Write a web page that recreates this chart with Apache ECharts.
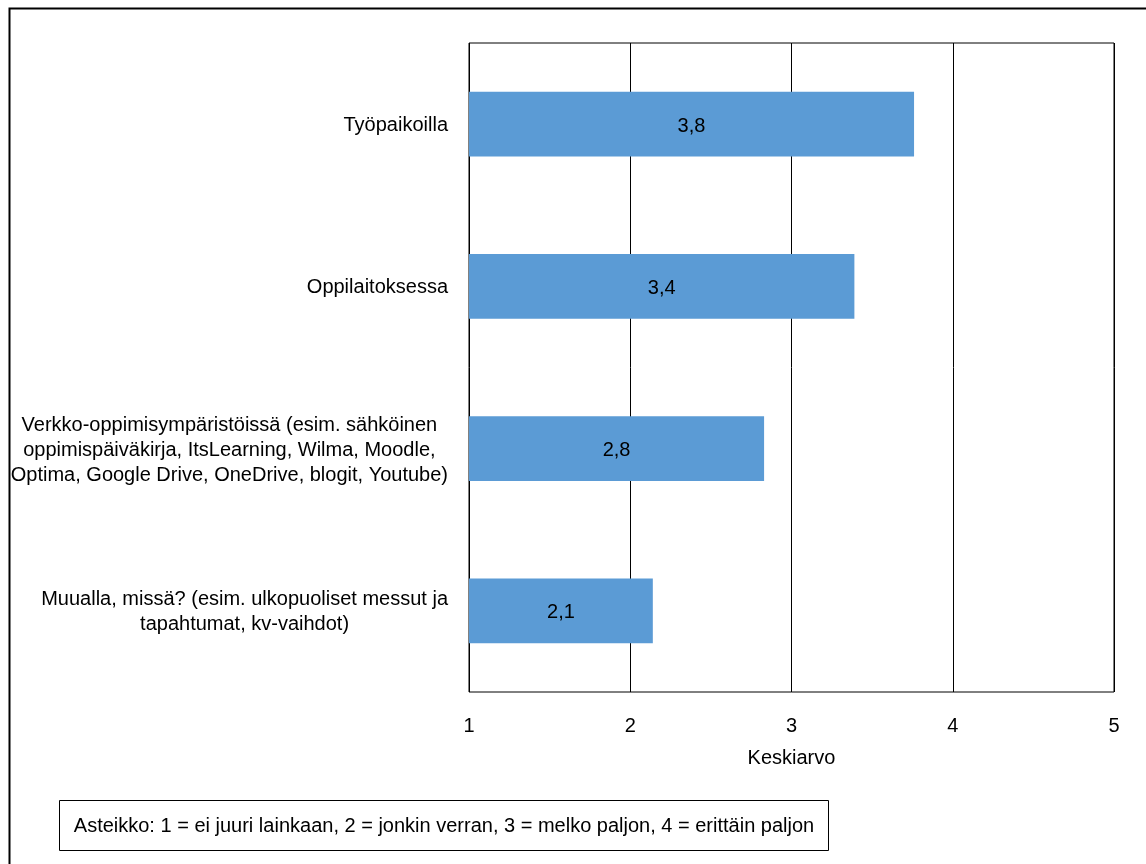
<!DOCTYPE html>
<html>
<head>
<meta charset="utf-8">
<script src="https://cdn.jsdelivr.net/npm/echarts@6/dist/echarts.min.js"></script>
<style>
  html, body { margin: 0; padding: 0; background: #fff; }
  #chart { width: 1146px; height: 864px; }
</style>
</head>
<body>
<div id="chart"></div>
<script>
// Learning environments, mean score on a 1–4 scale
const categories = [
  'Työpaikoilla',
  'Oppilaitoksessa',
  'Verkko-oppimisympäristöissä (esim. sähköinen\noppimispäiväkirja, ItsLearning, Wilma, Moodle,\nOptima, Google Drive, OneDrive, blogit, Youtube)',
  'Muualla, missä? (esim. ulkopuoliset messut ja\ntapahtumat, kv-vaihdot)'
];
const means = [3.76, 3.39, 2.83, 2.14];
const axisTicks = [1, 2, 3, 4, 5];
const axisTitle = 'Keskiarvo';
const scaleNote = 'Asteikko: 1 = ei juuri lainkaan, 2 = jonkin verran, 3 = melko paljon, 4 = erittäin paljon';

const FONT = "'Liberation Sans Narrow', 'Arial Narrow', 'Liberation Sans', Arial, sans-serif";
const chart = echarts.init(document.getElementById('chart'), null, { renderer: 'canvas' });

chart.setOption({
  backgroundColor: '#ffffff',
  animation: false,
  grid: {
    left: 469, right: 32, top: 43, bottom: 172,
    show: true, borderColor: '#000', borderWidth: 1, backgroundColor: 'transparent'
  },
  xAxis: {
    type: 'value',
    min: axisTicks[0],
    max: axisTicks[axisTicks.length - 1],
    interval: 1,
    name: axisTitle,
    nameLocation: 'middle',
    nameGap: 56,
    nameTextStyle: { color: '#000', fontFamily: FONT, fontSize: 20 },
    axisLine: { show: false },
    axisTick: { show: false },
    axisLabel: {
      color: '#000', fontFamily: FONT, fontSize: 20, margin: 24,
      formatter: v => String(v)
    },
    splitLine: { show: true, lineStyle: { color: '#000', width: 1 } }
  },
  yAxis: {
    type: 'category',
    data: categories,
    inverse: true,
    axisLine: { show: false },
    axisTick: { show: false },
    axisLabel: {
      margin: 21,
      align: 'right',
      formatter: v => v.split('\n').map(l => '{c|' + l + '}').join('\n'),
      rich: {
        c: { align: 'center', color: '#000', fontFamily: FONT, fontSize: 20, lineHeight: 25, padding: [3, 0, 0, 0] }
      }
    }
  },
  series: [{
    type: 'bar',
    data: means,
    barCategoryGap: '60%',
    itemStyle: { color: '#5B9BD5' },
    label: {
      show: true,
      position: 'inside',
      offset: [0, 2],
      color: '#000',
      fontFamily: FONT,
      fontSize: 20,
      formatter: p => p.value.toFixed(1).replace('.', ',')
    }
  }],
  graphic: [
    {
      type: 'rect',
      left: 7, top: 6,
      shape: { width: 1200, height: 900 },
      style: { fill: 'none', stroke: '#000', lineWidth: 2 },
      silent: true
    },
    {
      type: 'group',
      left: 59, top: 800,
      children: [
        {
          type: 'rect',
          shape: { x: 0, y: 0, width: 769, height: 50 },
          style: { fill: '#fff', stroke: '#000', lineWidth: 1 }
        },
        {
          type: 'text',
          x: 384.5, y: 26,
          style: {
            text: scaleNote, fill: '#000', font: '20px ' + FONT,
            align: 'center', verticalAlign: 'middle'
          }
        }
      ]
    }
  ]
});
</script>
</body>
</html>
